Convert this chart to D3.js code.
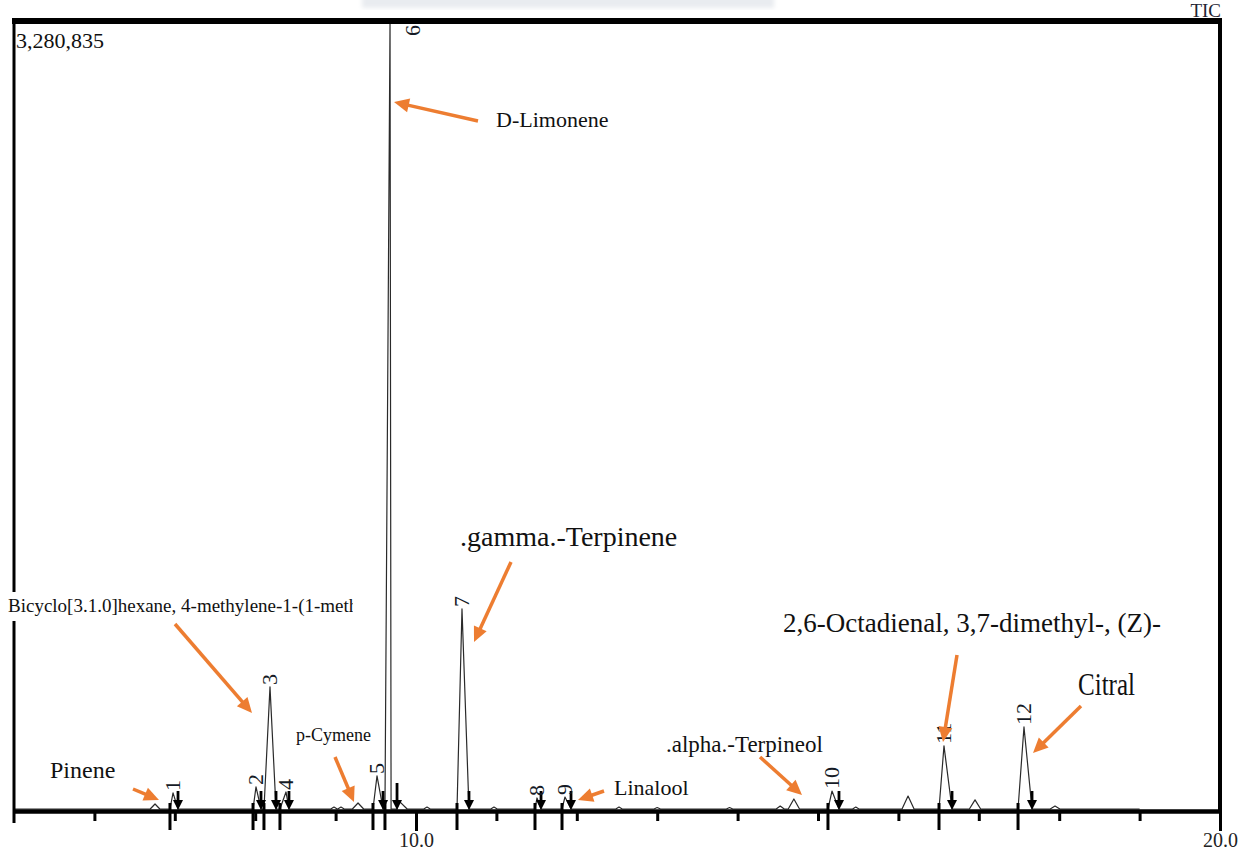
<!DOCTYPE html>
<html>
<head>
<meta charset="utf-8">
<script src="https://cdn.jsdelivr.net/npm/d3@7"></script>
<style>
  html, body { margin: 0; padding: 0; background: #fff; }
  svg { display: block; }
  text { font-family: "Liberation Serif", "Times New Roman", serif; }
</style>
</head>
<body>
<svg id="chart" width="1241" height="852"></svg>
<script>
// ---- Chromatogram data (retention time in minutes, intensity in counts) ----
const maxIntensity = 3280835;

// Integrated, numbered peaks
const peakNo     = [1, 2, 3, 4, 5, 6, 7, 8, 9, 10, 11, 12];
const peakRT     = [6.978, 8.010, 8.184, 8.383, 9.515, 9.677, 10.572, 11.505, 11.853, 15.174, 16.567, 17.562];
const peakStart  = [6.940, 7.973, 8.109, 8.308, 9.465, 9.614, 10.510, 11.480, 11.816, 15.124, 16.505, 17.488];
const peakEnd    = [7.040, 8.072, 8.259, 8.420, 9.590, 9.764, 10.659, 11.555, 11.928, 15.261, 16.667, 17.662];
const peakHeight = [67000, 92000, 509000, 71000, 138000, 3280835, 834000, 46000, 50000, 75000, 263000, 342000];

// Small unnumbered signals along the baseline
const minorRT     = [6.754, 8.980, 9.067, 9.279, 9.790, 10.137, 10.970, 12.525, 13.000, 13.900, 14.530, 14.700, 15.470, 16.120, 16.953, 17.948];
const minorHalf   = [0.060, 0.040, 0.040, 0.070, 0.100, 0.040, 0.040, 0.040, 0.040, 0.040, 0.050, 0.070, 0.040, 0.075, 0.070, 0.060];
const minorHeight = [21000, 8000, 8000, 25000, 33000, 8000, 8000, 8000, 6000, 6000, 12500, 42000, 8000, 54000, 38000, 12500];

const traceStart = 5.0, traceEnd = 19.0;

// Axis ticks
const minorTicks = [6, 7, 8, 9, 11, 12, 13, 14, 15, 16, 17, 18, 19];
const majorTicks = [10, 20];

// Compound names used in the annotations
const compoundNames = ["D-Limonene", ".gamma.-Terpinene", "Bicyclo[3.1.0]hexane, 4-methylene-1-(1-methylethyl)-",
  "2,6-Octadienal, 3,7-dimethyl-, (Z)-", "Citral", "Pinene", "p-Cymene", ".alpha.-Terpineol", "Linalool"];

// ---- Drawing ----
const svg = d3.select("#chart");
const x = d3.scaleLinear().domain([5, 20]).range([14, 1220]);
const y = d3.scaleLinear().domain([0, maxIntensity]).range([809, 22]);
const axisY = 811;

// trace points built from the peak tables
let pts = [[traceStart, 0], [traceEnd, 0]];
peakRT.forEach((t, i) => {
  pts.push([peakStart[i], 0], [t, peakHeight[i]], [peakEnd[i], 0]);
});
minorRT.forEach((t, i) => {
  pts.push([t - minorHalf[i], 0], [t, minorHeight[i]], [t + minorHalf[i], 0]);
});
pts.sort((a, b) => a[0] - b[0]);

const defs = svg.append("defs");
defs.append("clipPath").attr("id", "plotClip")
  .append("rect").attr("x", 14).attr("y", 20).attr("width", 1206).attr("height", 800);
defs.append("clipPath").attr("id", "bicClip")
  .append("rect").attr("x", 0).attr("y", 580).attr("width", 353).attr("height", 50);
defs.append("filter").attr("id", "soft")
  .append("feGaussianBlur").attr("stdDeviation", 2);

// faint header band at the very top
svg.append("rect").attr("x", 362).attr("y", -4).attr("width", 412).attr("height", 12)
  .attr("fill", "#e9ecf0").attr("filter", "url(#soft)");

svg.append("text").attr("x", 1221).attr("y", 17).attr("text-anchor", "end")
  .attr("font-size", 19).attr("fill", "#1f2533").text("TIC");

// trace
svg.append("path")
  .datum(pts)
  .attr("clip-path", "url(#plotClip)")
  .attr("fill", "none")
  .attr("stroke", "#2a2a2a")
  .attr("stroke-width", 1.2)
  .attr("stroke-linejoin", "round")
  .attr("d", d3.line().x(d => x(d[0])).y(d => y(d[1])));

// frame
svg.append("line").attr("x1", 12).attr("x2", 1222).attr("y1", 21).attr("y2", 21)
  .attr("stroke", "#000").attr("stroke-width", 6);
svg.append("line").attr("x1", 14).attr("x2", 14).attr("y1", 18).attr("y2", 823)
  .attr("stroke", "#000").attr("stroke-width", 3);
svg.append("line").attr("x1", 1220).attr("x2", 1220).attr("y1", 18).attr("y2", 811)
  .attr("stroke", "#000").attr("stroke-width", 4);

// x axis: minor ticks, then labelled major ticks
const gMinor = svg.append("g").attr("transform", `translate(0,${axisY})`)
  .call(d3.axisBottom(x).tickValues(minorTicks).tickSize(10).tickSizeOuter(0).tickFormat(""));
gMinor.select(".domain").attr("stroke", "#000").attr("stroke-width", 4.5);
gMinor.selectAll(".tick line").attr("stroke", "#000").attr("stroke-width", 3);

const gMajor = svg.append("g").attr("transform", `translate(0,${axisY})`)
  .call(d3.axisBottom(x).tickValues(majorTicks).tickSize(20).tickPadding(2).tickFormat(d3.format(".1f")));
gMajor.select(".domain").remove();
gMajor.selectAll(".tick line").attr("stroke", "#000").attr("stroke-width", 3);
gMajor.selectAll(".tick text")
  .attr("font-family", "'Liberation Serif', 'Times New Roman', serif")
  .attr("font-size", 20).attr("fill", "#222");

// peak integration marks: start below axis, end arrow above
const marks = svg.append("g");
peakNo.forEach((n, i) => {
  const xs = x(peakStart[i]);
  marks.append("line").attr("x1", xs).attr("x2", xs).attr("y1", 803).attr("y2", 830)
    .attr("stroke", "#000").attr("stroke-width", 3);
  const xe = x(peakEnd[i]);
  const top = peakHeight[i] >= maxIntensity ? 783 : 791;
  marks.append("line").attr("x1", xe).attr("x2", xe).attr("y1", top).attr("y2", 801)
    .attr("stroke", "#000").attr("stroke-width", 2.8);
  marks.append("path")
    .attr("d", `M${xe - 5},800 L${xe + 5},800 L${xe},810 Z`).attr("fill", "#000");
});

// peak numbers, rotated
peakNo.forEach((n, i) => {
  const clipped = peakHeight[i] >= maxIntensity;
  const px = x(peakRT[i]) + (clipped ? 30 : 7);
  const py = clipped ? 36 : y(peakHeight[i]) - 2;
  svg.append("text")
    .attr("transform", `translate(${px},${py}) rotate(-90)`)
    .attr("font-size", 22).attr("fill", "#151a26")
    .text(n);
});

// intensity maximum label
svg.append("text").attr("x", 16).attr("y", 48).attr("font-size", 22).attr("fill", "#111")
  .text(d3.format(",")(maxIntensity));

// compound annotations: label position, arrow tail and arrow tip
const ann = [
  { name: compoundNames[0], tx: 496, ty: 127, size: 22, tail: [478, 121], tip: [394, 102] },
  { name: compoundNames[1], tx: 460, ty: 546, size: 28, tail: [511, 562], tip: [474, 642] },
  { name: compoundNames[3], tx: 783, ty: 632, size: 27, tail: [957, 655], tip: [943, 742] },
  { name: compoundNames[4], tx: 1078, ty: 695, size: 32, len: 57, tail: [1081, 706], tip: [1033, 753] },
  { name: compoundNames[5], tx: 50, ty: 778, size: 24, tail: [133, 789], tip: [159, 800] },
  { name: compoundNames[6], tx: 296, ty: 741, size: 18, tail: [335, 757], tip: [354, 802] },
  { name: compoundNames[7], tx: 666, ty: 752, size: 23, tail: [760, 757], tip: [802, 795] },
  { name: compoundNames[8], tx: 614, ty: 795, size: 22, tail: [604, 791], tip: [578, 800] },
  { name: compoundNames[2], tx: 8, ty: 612, size: 19, tail: [175, 624], tip: [252, 713], boxed: true }
];

const orange = "#ED7D31";
function arrow(g, tail, tip) {
  const dx = tip[0] - tail[0], dy = tip[1] - tail[1];
  const L = Math.hypot(dx, dy), ux = dx / L, uy = dy / L;
  const hl = 15, hw = 7;
  const bx = tip[0] - ux * hl, by = tip[1] - uy * hl;
  g.append("line").attr("x1", tail[0]).attr("y1", tail[1]).attr("x2", bx + ux * 2).attr("y2", by + uy * 2)
    .attr("stroke", orange).attr("stroke-width", 3.5);
  g.append("path")
    .attr("d", `M${tip[0]},${tip[1]} L${bx - uy * hw},${by + ux * hw} L${bx + uy * hw},${by - ux * hw} Z`)
    .attr("fill", orange);
}

const gAnn = svg.append("g");
ann.forEach(a => {
  if (a.boxed) {
    gAnn.append("rect").attr("x", 4).attr("y", 592).attr("width", 353).attr("height", 29).attr("fill", "#fff");
    gAnn.append("text").attr("x", a.tx).attr("y", a.ty).attr("font-size", a.size).attr("fill", "#111")
      .attr("clip-path", "url(#bicClip)").text(a.name);
  } else {
    const t = gAnn.append("text").attr("x", a.tx).attr("y", a.ty).attr("font-size", a.size).attr("fill", "#111")
      .text(a.name);
    if (a.len) t.attr("textLength", a.len).attr("lengthAdjust", "spacingAndGlyphs");
  }
  arrow(gAnn, a.tail, a.tip);
});
</script>
</body>
</html>
